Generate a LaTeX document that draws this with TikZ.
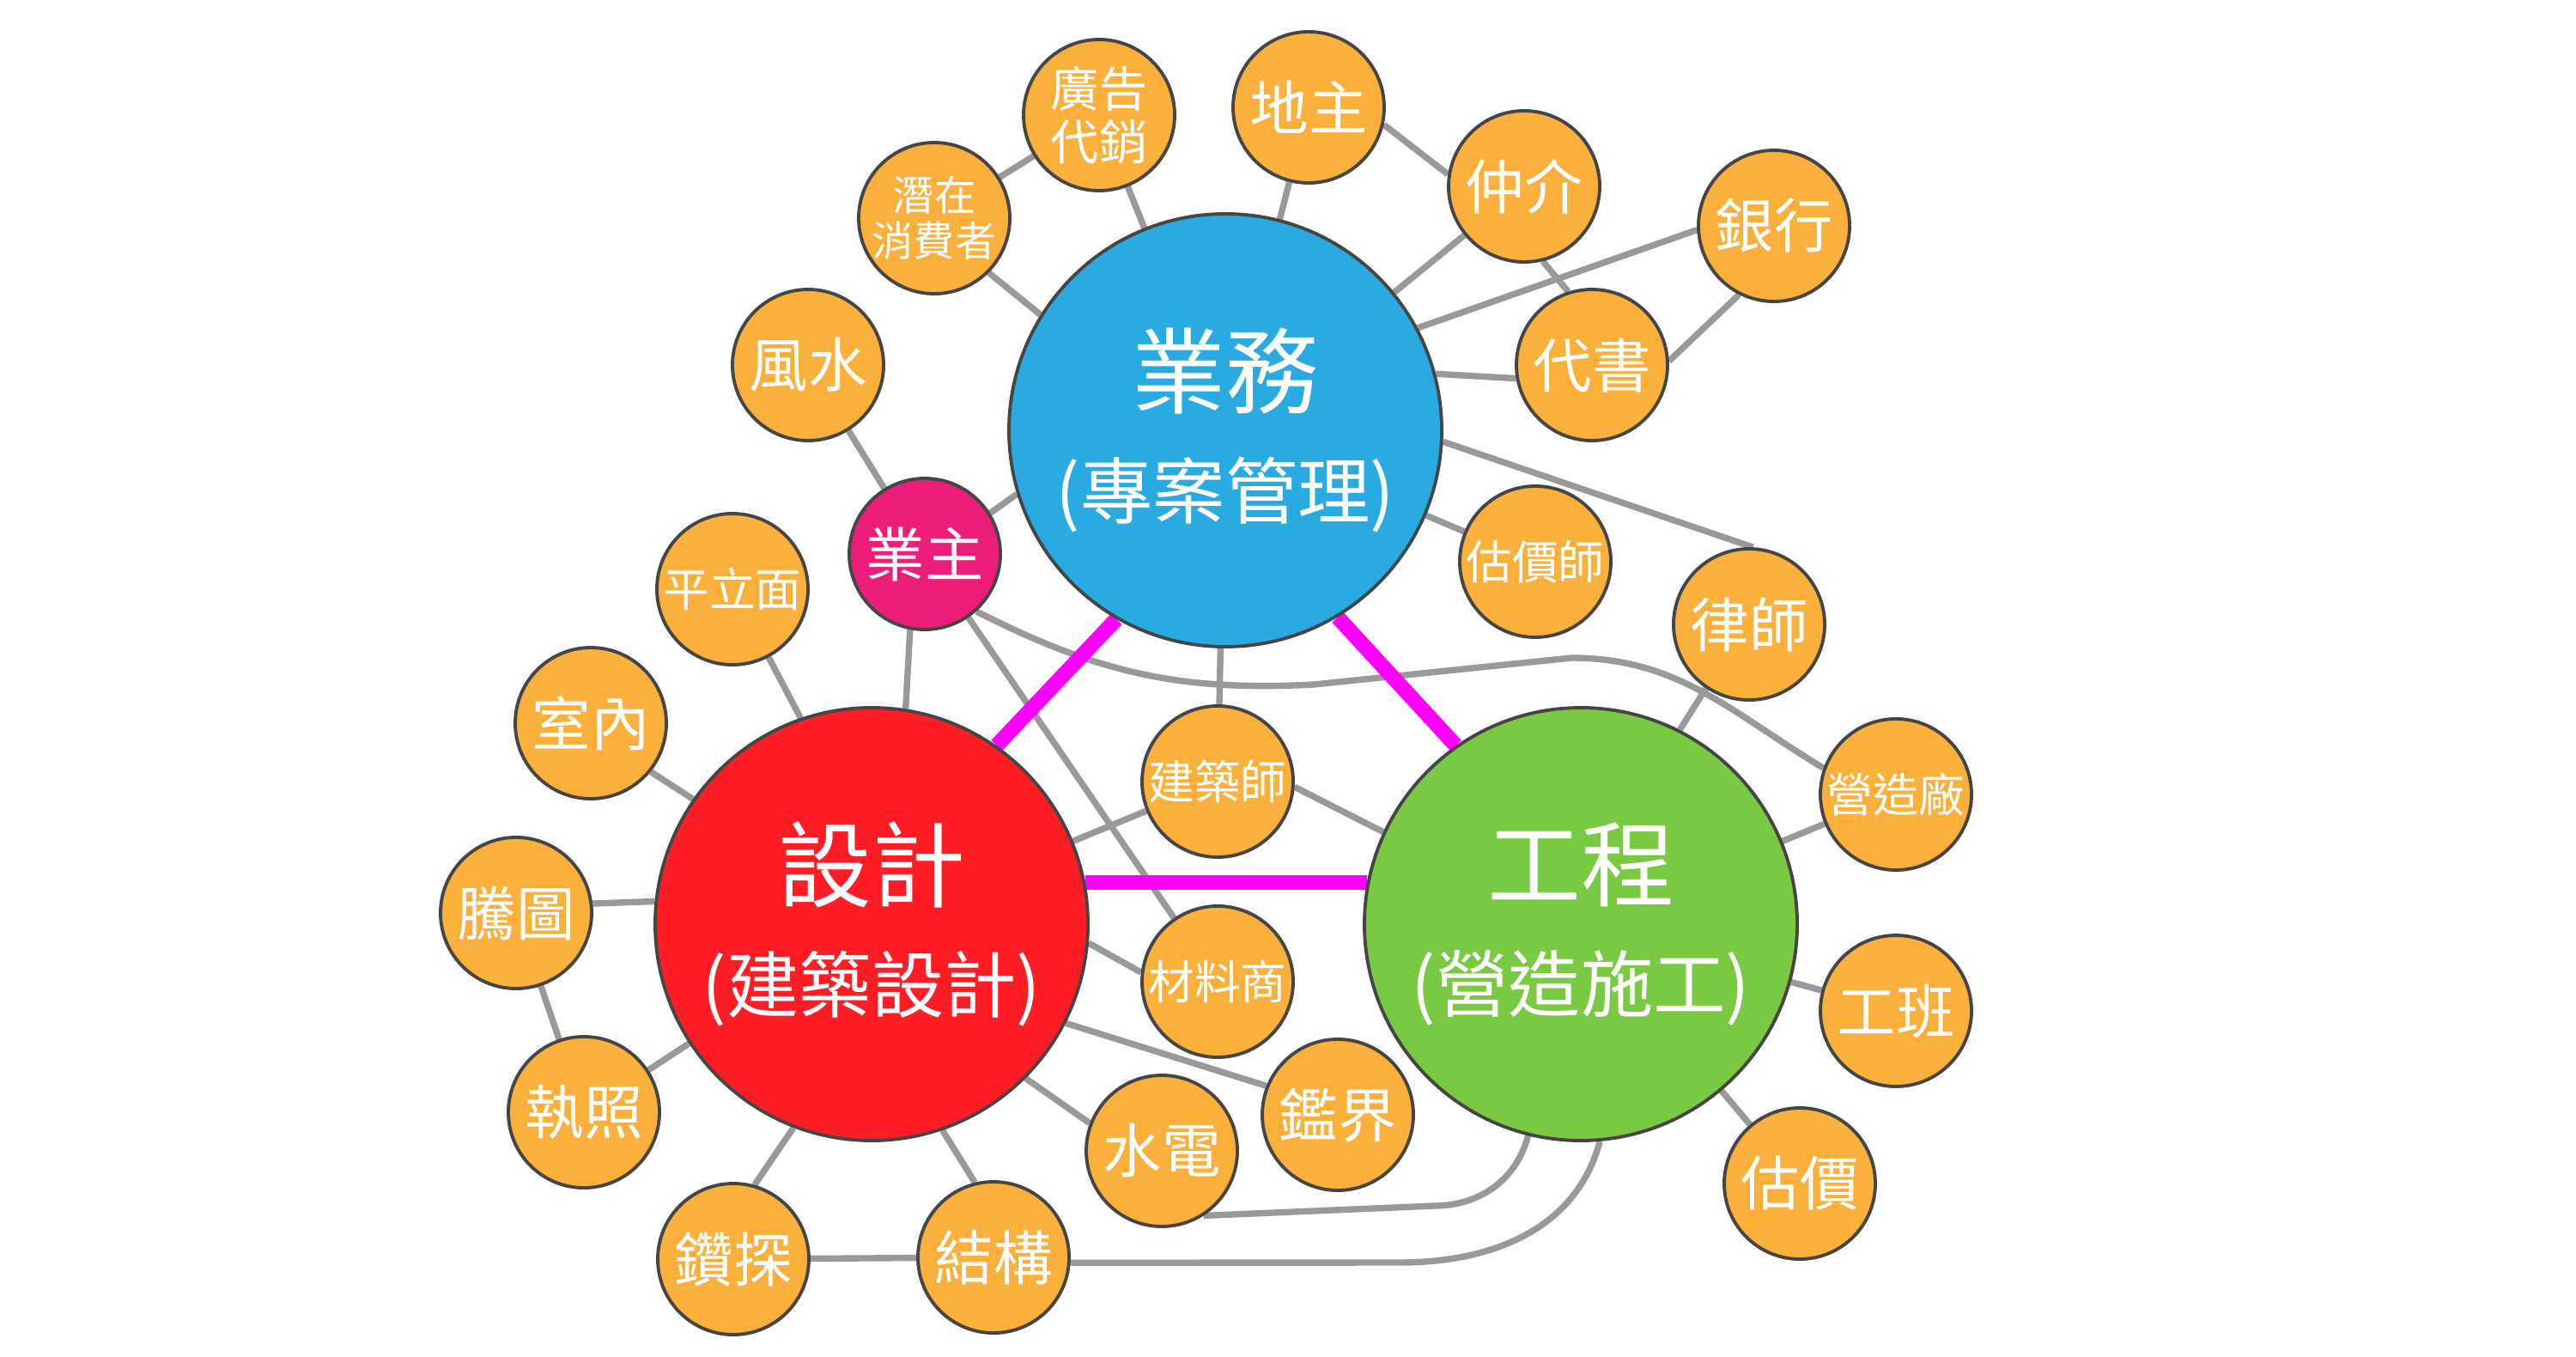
\documentclass[tikz,border=0pt]{standalone}
\usepackage{fontspec}
\setmainfont{Noto Sans CJK TC}
\usetikzlibrary{backgrounds}

\definecolor{hubblue}{HTML}{29ABE2}
\definecolor{hubred}{HTML}{FF1D25}
\definecolor{hubgreen}{HTML}{7AC943}
\definecolor{leaforange}{HTML}{FBB03B}
\definecolor{ownerpink}{HTML}{ED1E79}
\definecolor{rimgray}{HTML}{454545}
\definecolor{linkgray}{HTML}{999999}
\definecolor{tiemagenta}{HTML}{FF00FF}

\begin{document}
\begin{tikzpicture}[
  hub/.style={circle, draw=rimgray, line width=1.1pt, minimum size=5.04cm, inner sep=0pt, text=white, align=center, font=\fontsize{31}{37}\selectfont},
  leaf/.style={circle, draw=rimgray, line width=1.1pt, fill=leaforange, minimum size=1.76cm, inner sep=0pt, text=white, align=center, font=\fontsize{19.5}{23}\selectfont},
  leafs/.style={leaf, font=\fontsize{15.3}{18}\selectfont},
  link/.style={draw=linkgray, line width=2.1pt},
  tie/.style={draw=tiemagenta, line width=5pt}]
\useasboundingbox (0,0) rectangle (30,-15.79);

% three hubs
\node[hub, fill=hubblue]  (biz) at (14.27,-5.01)  {業務\\{\fontsize{24}{37}\selectfont (專案管理)}};
\node[hub, fill=hubred]   (des) at (10.15,-10.76) {設計\\{\fontsize{24}{37}\selectfont (建築設計)}};
\node[hub, fill=hubgreen] (eng) at (18.41,-10.76) {工程\\{\fontsize{24}{37}\selectfont (營造施工)}};

% around the business hub
\node[leaf, font=\fontsize{16}{17.5}\selectfont]   (ad)    at (12.80,-1.34) {廣告\\代銷};
\node[leaf, font=\fontsize{13.7}{15}\selectfont]   (buyer) at (10.88,-2.54) {潛在\\消費者};
\node[leaf]  (land)      at (15.24,-1.25) {地主};
\node[leaf]  (agent)     at (17.75,-2.17) {仲介};
\node[leaf]  (bank)      at (20.66,-2.63) {銀行};
\node[leaf]  (fengshui)  at (9.41,-4.25)  {風水};
\node[leaf]  (scrivener) at (18.54,-4.25) {代書};
\node[leafs] (apprais)   at (17.88,-6.54) {估價師};
\node[leaf]  (lawyer)    at (20.37,-7.27) {律師};
\node[leaf, fill=ownerpink] (owner) at (10.77,-6.45) {業主};

% around the design hub
\node[leafs] (elev)      at (8.53,-6.86)   {平立面};
\node[leaf]  (interior)  at (6.88,-8.42)   {室內};
\node[leaf]  (draft)     at (6.01,-10.63)  {騰圖};
\node[leaf]  (permit)    at (6.80,-12.95)  {執照};
\node[leaf]  (drill)     at (8.54,-14.66)  {鑽探};
\node[leaf]  (struct)    at (11.57,-14.64) {結構};
\node[leaf]  (mep)       at (13.53,-13.40) {水電};
\node[leafs] (arch)      at (14.18,-9.10)  {建築師};
\node[leafs] (material)  at (14.18,-11.43) {材料商};
\node[leaf]  (survey)    at (15.58,-12.98) {鑑界};

% around the engineering hub
\node[leafs] (contractor) at (22.08,-9.25)  {營造廠};
\node[leaf]  (crew)       at (22.08,-11.77) {工班};
\node[leaf]  (estimate)   at (20.96,-13.78) {估價};

\begin{scope}[on background layer]
\draw[link] (buyer.-45) -- (biz.148);
\draw[link] (ad) -- (biz);
\draw[link] (land) -- (biz);
\draw[link] (agent) -- (biz);
\draw[link] (bank.183) -- (biz.28);
\draw[link] (scrivener.190) -- (biz.15);
\draw[link] (apprais) -- (biz);
\draw[link] (biz.-3) -- (lawyer.87);
\draw[link] (owner.32) -- (biz.197);
\draw[link] (biz) -- (arch);
\draw[link] (buyer) -- (ad);
\draw[link] (land.-13) -- (agent.171);
\draw[link] (agent.-76) -- (scrivener.108);
\draw[link] (bank.243) -- (scrivener.3);
\draw[link] (fengshui) -- (owner);
\draw[link] (elev.-62) -- (des.109);
\draw[link] (interior.-39) -- (des.145);
\draw[link] (draft.7) -- (des.174);
\draw[link] (draft) -- (permit);
\draw[link] (permit) -- (des);
\draw[link] (drill.74) -- (des.249);
\draw[link] (drill) -- (struct);
\draw[link] (struct.104) -- (des.-71);
\draw[link] (mep.159) -- (des.-45);
\draw[link] (des.-27) -- (survey.158);
\draw[link] (des.-5) -- (material.173);
\draw[link] (des) -- (arch);
\draw[link] (owner.259) -- (des.81);
\draw[link] (owner) -- (material);
\draw[link] (arch.-4) -- (eng.155);
\draw[link] (lawyer.236) -- (eng.63);
\draw[link] (contractor) -- (eng);
\draw[link] (crew) -- (eng);
\draw[link] (estimate) -- (eng);
\draw[link] (owner.-48) to[out=-27, in=183] (15.30,-7.97) -- (18.30,-7.66) to[out=0, in=149] (contractor.160);
\draw[link] (mep.-57) -- (16.70,-14.04) to[out=0, in=-105] (eng.256);
\draw[link] (struct.-4) -- (16.30,-14.70) to[out=0, in=-105] (eng.-85);
\draw[tie] (biz.240) -- (des.55);
\draw[tie] (biz.-59) -- (eng.125);
\draw[tie] (des.11) -- (eng.169);
\end{scope}
\end{tikzpicture}
\end{document}
